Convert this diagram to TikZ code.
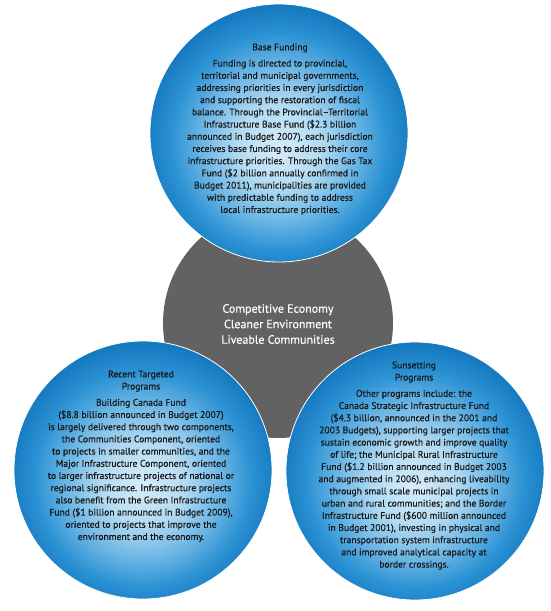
\documentclass[tikz,border=0pt]{standalone}
\usepackage{fontspec}
\setmainfont{PT Sans}[FakeBold=0.25]
\newfontfamily\bodyfont{PT Sans}[FakeBold=0.35]
\definecolor{bl0}{HTML}{D6EDF9}
\definecolor{bl1}{HTML}{B3DBF3}
\definecolor{bl2}{HTML}{6CB6E5}
\definecolor{bl3}{HTML}{2B92D4}
\definecolor{bl4}{HTML}{1579BF}
\definecolor{hubgray}{HTML}{626262}
\definecolor{txt}{HTML}{161616}
\pgfdeclareradialshading{bubble}{\pgfpoint{0bp}{-3bp}}{color(0bp)=(bl0); color(8bp)=(bl1); color(15bp)=(bl2); color(21bp)=(bl3); color(26bp)=(bl4); color(50bp)=(bl4)}
\tikzset{
  bubble/.style={circle, minimum size=258pt, inner sep=0pt, shading=bubble, draw=white, line width=0.8pt},
  hub/.style={circle, minimum size=230pt, inner sep=0pt, fill=hubgray},
  bodytext/.style={align=center, text=txt, font=\bodyfont\fontsize{9.6}{12.2}\selectfont},
  hubtext/.style={align=center, text=white, font=\fontsize{12}{15.5}\selectfont}
}
\begin{document}
\begin{tikzpicture}[x=1pt,y=-1pt]
\useasboundingbox (0,0) rectangle (550,611);
\node[hub] (hub) at (278,323) {};
\node[bubble] (top) at (279,133) {};
\node[bubble] (left) at (143,470) {};
\node[bubble] (right) at (415,471) {};
\node[hubtext] (hubt) at (278,324) {Competitive Economy\\Cleaner Environment\\Liveable Communities};
\node[bodytext, anchor=north] (topt) at (280,40) {Base Funding\\[4pt]
Funding is directed to provincial,\\
territorial and municipal governments,\\
addressing priorities in every jurisdiction\\
and supporting the restoration of fiscal\\
balance. Through the Provincial–Territorial\\
Infrastructure Base Fund (\$2.3 billion\\
announced in Budget 2007), each jurisdiction\\
receives base funding to address their core\\
infrastructure priorities. Through the Gas Tax\\
Fund (\$2 billion annually confirmed in\\
Budget 2011), municipalities are provided\\
with predictable funding to address\\
local infrastructure priorities.};
\node[bodytext, anchor=north] (leftt) at (141,367) {Recent Targeted\\Programs\\[4pt]
Building Canada Fund\\
(\$8.8 billion announced in Budget 2007)\\
is largely delivered through two components,\\
the Communities Component, oriented\\
to projects in smaller communities, and the\\
Major Infrastructure Component, oriented\\
to larger infrastructure projects of national or\\
regional significance. Infrastructure projects\\
also benefit from the Green Infrastructure\\
Fund (\$1 billion announced in Budget 2009),\\
oriented to projects that improve the\\
environment and the economy.};
\node[bodytext, anchor=north] (rightt) at (414,358) {Sunsetting\\Programs\\[4pt]
Other programs include: the\\
Canada Strategic Infrastructure Fund\\
(\$4.3 billion, announced in the 2001 and\\
2003 Budgets), supporting larger projects that\\
sustain economic growth and improve quality\\
of life; the Municipal Rural Infrastructure\\
Fund (\$1.2 billion announced in Budget 2003\\
and augmented in 2006), enhancing liveability\\
through small scale municipal projects in\\
urban and rural communities; and the Border\\
Infrastructure Fund (\$600 million announced\\
in Budget 2001), investing in physical and\\
transportation system infrastructure\\
and improved analytical capacity at\\
border crossings.};
\end{tikzpicture}
\end{document}
